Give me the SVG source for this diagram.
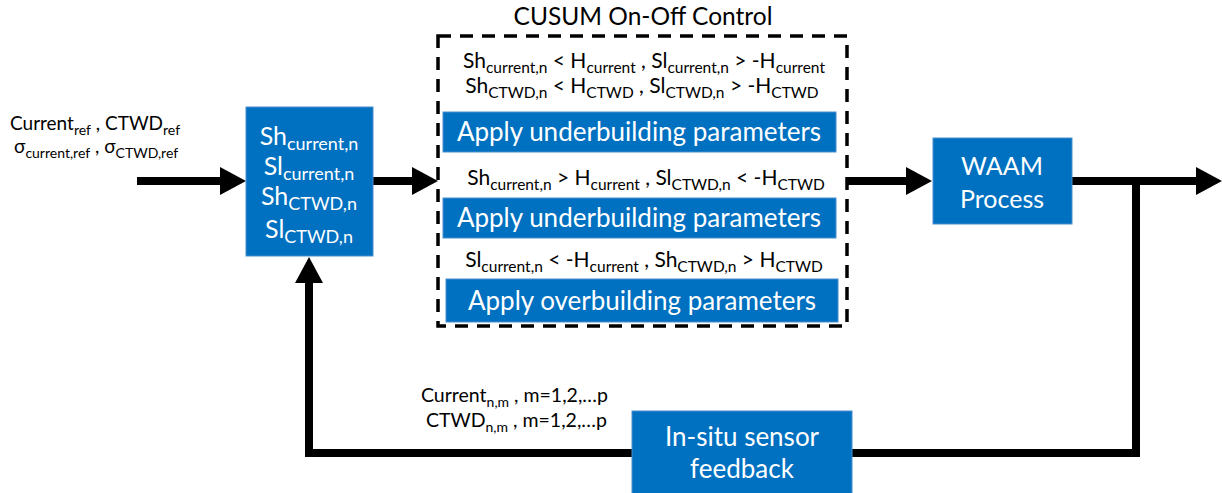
<svg xmlns="http://www.w3.org/2000/svg" width="1222" height="493" viewBox="0 0 1222 493">
  <style>
    .blk { fill: #0070C0; stroke: #4A8FCF; stroke-width: 1; }
    .wt { fill: #ffffff; font-family: Lato, "Open Sans", sans-serif; }
    .bt { fill: #000000; font-family: Lato, "Open Sans", sans-serif; }
    .wire { fill: none; stroke: #000000; stroke-width: 8; stroke-linejoin: miter; }
    .frame { fill: none; stroke: #000000; stroke-width: 3.5; stroke-dasharray: 13 9; }
  </style>
  <defs>
    <marker id="head" markerUnits="userSpaceOnUse" markerWidth="27" markerHeight="28" refX="0" refY="14" orient="auto">
      <path d="M0,0 L26,14 L0,28 z" fill="#000000"/>
    </marker>
  </defs>

  <rect width="1222" height="493" fill="#ffffff"/>

  <!-- reference inputs -->
  <g id="inputs" class="bt">
    <text x="10" y="130" font-size="19">Current<tspan font-size="14" dy="5">ref</tspan><tspan dy="-5"> , CTWD</tspan><tspan font-size="14" dy="5">ref</tspan></text>
    <text x="14" y="153" font-size="19">σ<tspan font-size="14" dy="5">current,ref</tspan><tspan dy="-5"> , σ</tspan><tspan font-size="14" dy="5">CTWD,ref</tspan></text>
  </g>

  <!-- connectors -->
  <g id="connectors">
    <line class="wire" x1="137" y1="181" x2="220" y2="181" marker-end="url(#head)"/>
    <line class="wire" x1="373" y1="181" x2="412" y2="181" marker-end="url(#head)"/>
    <line class="wire" x1="848" y1="181" x2="906" y2="181" marker-end="url(#head)"/>
    <line class="wire" x1="1072" y1="181" x2="1196" y2="181" marker-end="url(#head)"/>
    <polyline class="wire" points="1136,177 1136,453 309,453 309,283" marker-end="url(#head)"/>
  </g>

  <!-- CUSUM statistics block -->
  <g id="cusum-stats">
    <rect class="blk" x="246" y="107" width="127" height="149"/>
    <g class="wt" font-size="25" text-anchor="middle">
      <text x="309" y="145">Sh<tspan font-size="18" dy="5">current,n</tspan></text>
      <text x="309" y="175">Sl<tspan font-size="18" dy="5">current,n</tspan></text>
      <text x="309" y="205">Sh<tspan font-size="18" dy="5">CTWD,n</tspan></text>
      <text x="309" y="238">Sl<tspan font-size="18" dy="5">CTWD,n</tspan></text>
    </g>
  </g>

  <!-- on-off controller -->
  <g id="on-off-control">
    <text class="bt" x="643" y="25" font-size="24.5" text-anchor="middle">CUSUM On-Off Control</text>
    <rect class="frame" x="438" y="36" width="409" height="290"/>
    <g class="bt" font-size="21" text-anchor="middle">
      <text x="644" y="68">Sh<tspan font-size="15.5" dy="5">current,n</tspan><tspan dy="-5"> &lt; H</tspan><tspan font-size="15.5" dy="5">current</tspan><tspan dy="-5"> , Sl</tspan><tspan font-size="15.5" dy="5">current,n</tspan><tspan dy="-5"> &gt; -H</tspan><tspan font-size="15.5" dy="5">current</tspan></text>
      <text x="642" y="93">Sh<tspan font-size="15.5" dy="5">CTWD,n</tspan><tspan dy="-5"> &lt; H</tspan><tspan font-size="15.5" dy="5">CTWD</tspan><tspan dy="-5"> , Sl</tspan><tspan font-size="15.5" dy="5">CTWD,n</tspan><tspan dy="-5"> &gt; -H</tspan><tspan font-size="15.5" dy="5">CTWD</tspan></text>
      <text x="646" y="185">Sh<tspan font-size="15.5" dy="5">current,n</tspan><tspan dy="-5"> &gt; H</tspan><tspan font-size="15.5" dy="5">current</tspan><tspan dy="-5"> , Sl</tspan><tspan font-size="15.5" dy="5">CTWD,n</tspan><tspan dy="-5"> &lt; -H</tspan><tspan font-size="15.5" dy="5">CTWD</tspan></text>
      <text x="644" y="267">Sl<tspan font-size="15.5" dy="5">current,n</tspan><tspan dy="-5"> &lt; -H</tspan><tspan font-size="15.5" dy="5">current</tspan><tspan dy="-5"> , Sh</tspan><tspan font-size="15.5" dy="5">CTWD,n</tspan><tspan dy="-5"> &gt; H</tspan><tspan font-size="15.5" dy="5">CTWD</tspan></text>
    </g>
    <g id="under-1">
      <rect class="blk" x="443" y="112" width="393" height="40"/>
      <text class="wt" x="639" y="141" font-size="26" text-anchor="middle">Apply underbuilding parameters</text>
    </g>
    <g id="under-2">
      <rect class="blk" x="443" y="198" width="393" height="40"/>
      <text class="wt" x="639" y="227" font-size="26" text-anchor="middle">Apply underbuilding parameters</text>
    </g>
    <g id="over">
      <rect class="blk" x="446" y="279" width="392" height="43"/>
      <text class="wt" x="642" y="310" font-size="26" text-anchor="middle">Apply overbuilding parameters</text>
    </g>
  </g>

  <!-- process -->
  <g id="waam">
    <rect class="blk" x="933" y="138" width="139" height="86"/>
    <g class="wt" font-size="25" text-anchor="middle">
      <text x="1002" y="175">WAAM</text>
      <text x="1002" y="208">Process</text>
    </g>
  </g>

  <!-- sensing -->
  <g id="sensor">
    <rect class="blk" x="632" y="411" width="220" height="84"/>
    <g class="wt" font-size="26" text-anchor="middle">
      <text x="742" y="446">In-situ sensor</text>
      <text x="742" y="478">feedback</text>
    </g>
  </g>

  <!-- measured signals -->
  <g id="measurements" class="bt" font-size="19.5">
    <text x="421" y="402">Current<tspan font-size="14" dy="5">n,m</tspan><tspan dy="-5">  , m=1,2,…p</tspan></text>
    <text x="426" y="427">CTWD<tspan font-size="14" dy="5">n,m</tspan><tspan dy="-5"> , m=1,2,…p</tspan></text>
  </g>
</svg>
